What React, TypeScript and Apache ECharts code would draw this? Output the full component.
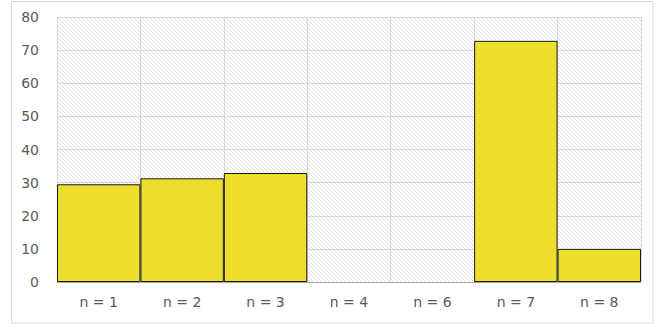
import React, { useEffect, useRef } from "react";
import * as echarts from "echarts";

const categories = ["n = 1", "n = 2", "n = 3", "n = 4", "n = 6", "n = 7", "n = 8"];
const counts = [29.5, 31.3, 32.9, 0, 0, 72.8, 10];
const yTicks = { min: 0, max: 80, interval: 10 };

// Diagonal "\" hatch tile used as the plot-area fill
function makeHatchTile(): HTMLCanvasElement {
  const size = 4;
  const c = document.createElement("canvas");
  c.width = size;
  c.height = size;
  const ctx = c.getContext("2d")!;
  const img = ctx.createImageData(size, size);
  for (let y = 0; y < size; y++) {
    for (let x = 0; x < size; x++) {
      const i = (y * size + x) * 4;
      const on = (x - y + size) % size === 0;
      const v = on ? 224 : 255;
      img.data[i] = v;
      img.data[i + 1] = v;
      img.data[i + 2] = v;
      img.data[i + 3] = 255;
    }
  }
  ctx.putImageData(img, 0, 0);
  return c;
}

export default function App() {
  const ref = useRef<HTMLDivElement>(null);

  useEffect(() => {
    if (!ref.current) return;
    const chart = echarts.init(ref.current, undefined, { renderer: "svg" });
    const labelFont = {
      color: "#595959",
      fontSize: 14,
      fontFamily: "DejaVu Sans",
    };
    // empty categories get no outlined sliver at the baseline
    const barData = counts.map((v) =>
      v === 0 ? { value: v, itemStyle: { borderWidth: 0 } } : v
    );
    chart.setOption({
      animation: false,
      backgroundColor: "#ffffff",
      graphic: [
        {
          type: "rect",
          z: -1,
          silent: true,
          shape: { x: 11.5, y: 1.5, width: 641.5, height: 321.5 },
          style: { fill: "none", stroke: "#d9d9d9", lineWidth: 1 },
        },
      ],
      grid: {
        left: 57,
        top: 17,
        right: 21,
        bottom: 43,
        show: true,
        borderWidth: 0,
        backgroundColor: { image: makeHatchTile(), repeat: "repeat" },
      },
      xAxis: {
        type: "category",
        data: categories,
        boundaryGap: true,
        axisTick: { show: false },
        axisLine: { show: true, lineStyle: { color: "#a6a6a6", width: 1 } },
        axisLabel: { ...labelFont, margin: 13 },
        splitLine: { show: true, lineStyle: { color: "#d9d9d9", width: 1 } },
      },
      yAxis: {
        type: "value",
        min: yTicks.min,
        max: yTicks.max,
        interval: yTicks.interval,
        axisLine: { show: false },
        axisTick: { show: false },
        axisLabel: { ...labelFont, margin: 18 },
        splitLine: { show: true, lineStyle: { color: "#d9d9d9", width: 1 } },
      },
      series: [
        {
          type: "bar",
          data: barData,
          barCategoryGap: "0%",
          itemStyle: {
            color: "#eedf2e",
            borderColor: "#1a1a1a",
            borderWidth: 1,
          },
        },
      ],
    });
    return () => chart.dispose();
  }, []);

  return (
    <div
      ref={ref}
      style={{ position: "fixed", left: 0, top: 0, width: 662, height: 325 }}
    />
  );
}
